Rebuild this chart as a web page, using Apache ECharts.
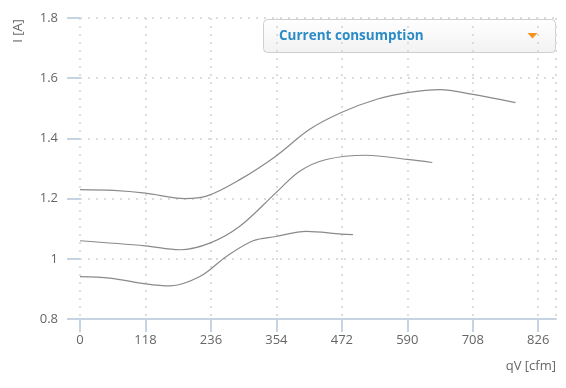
<!DOCTYPE html>
<html>
<head>
<meta charset="utf-8">
<script src="https://cdn.jsdelivr.net/npm/echarts@6/dist/echarts.min.js"></script>
<style>
html,body{margin:0;padding:0;background:#fff;}
#chart{width:566px;height:388px;}
</style>
</head>
<body>
<div id="chart"></div>
<script>
// Data
var xTicks = [0, 118, 236, 354, 472, 590, 708, 826];
var yTicks = [0.8, 1, 1.2, 1.4, 1.6, 1.8];
var curveHigh = [[0,1.23],[60,1.227],[118,1.218],[189,1.2],[228,1.208],[288,1.263],[353,1.341],[414,1.43],[471,1.486],[535,1.53],[590,1.552],[649,1.562],[706,1.547],[785,1.519]];
var curveMid = [[0,1.06],[118,1.043],[180,1.03],[234,1.052],[288,1.108],[353,1.219],[396,1.291],[444,1.33],[516,1.344],[590,1.33],[635,1.32]];
var curveLow = [[0,0.941],[54,0.936],[118,0.917],[162,0.91],[216,0.941],[264,1.008],[312,1.06],[353,1.074],[408,1.091],[471,1.082],[492,1.08]];
var legendTitle = 'Current consumption';
var xName = 'qV [cfm]';
var yName = 'I [A]';

var chart = echarts.init(document.getElementById('chart'), null, {renderer:'canvas'});
var font = 'Open Sans';
function lineSeries(d){
  return {type:'line', data:d, smooth:0.35, showSymbol:false, symbol:'none',
    lineStyle:{color:'#8a8a8a', width:1.2}, silent:true, animation:false};
}
chart.setOption({
  animation:false,
  grid:{left:80, right:10, top:18, bottom:69},
  xAxis:{type:'value', min:0, max:858, interval:118,
    axisLine:{show:true, lineStyle:{color:'#c5d3e2', width:2}},
    axisTick:{show:true, length:13, lineStyle:{color:'#c5d3e2', width:2}},
    axisLabel:{color:'#666', fontFamily:font, fontSize:13, margin:15, showMaxLabel:false,
      formatter:function(v){return xTicks.indexOf(v)>=0 ? String(v) : '';}},
    splitLine:{show:true, lineStyle:{color:'#dcdcdc', width:2, type:[2,6]}}
  },
  yAxis:{type:'value', min:0.8, max:1.8, interval:0.2,
    axisLine:{show:false},
    axisTick:{show:true, length:13, lineStyle:{color:'#c5d3e2', width:2}},
    axisLabel:{color:'#666', fontFamily:font, fontSize:13, margin:22,
      formatter:function(v){var r=Math.round(v*10)/10; return yTicks.indexOf(r)>=0 ? String(r) : '';}},
    splitLine:{show:true, lineStyle:{color:'#dcdcdc', width:2, type:[2,6]}}
  },
  series:[lineSeries(curveHigh), lineSeries(curveMid), lineSeries(curveLow)],
  graphic:[
    {type:'text', x:556, y:366, style:{text:xName, fill:'#666', font:'13px "Open Sans"', textAlign:'right', textVerticalAlign:'middle'}},
    {type:'text', x:18, y:31, rotation:Math.PI/2, style:{text:yName, fill:'#666', font:'13px "Open Sans"', textAlign:'center', textVerticalAlign:'middle'}},
    {type:'rect', shape:{x:263.5, y:19.5, width:292, height:33, r:4},
      style:{stroke:'#cfcfcf', lineWidth:1,
        fill:new echarts.graphic.LinearGradient(0,0,0,1,[{offset:0,color:'#ffffff'},{offset:1,color:'#f2f2f2'}])}},
    {type:'text', x:279, y:36, style:{text:legendTitle, fill:'#2a8bc6', font:'bold 13.5px "Open Sans"', textVerticalAlign:'middle'}},
    {type:'polygon', shape:{points:[[527.5,33],[537.5,33],[532.5,38.5]]}, style:{fill:'#f7931e'}}
  ]
});
</script>
</body>
</html>
